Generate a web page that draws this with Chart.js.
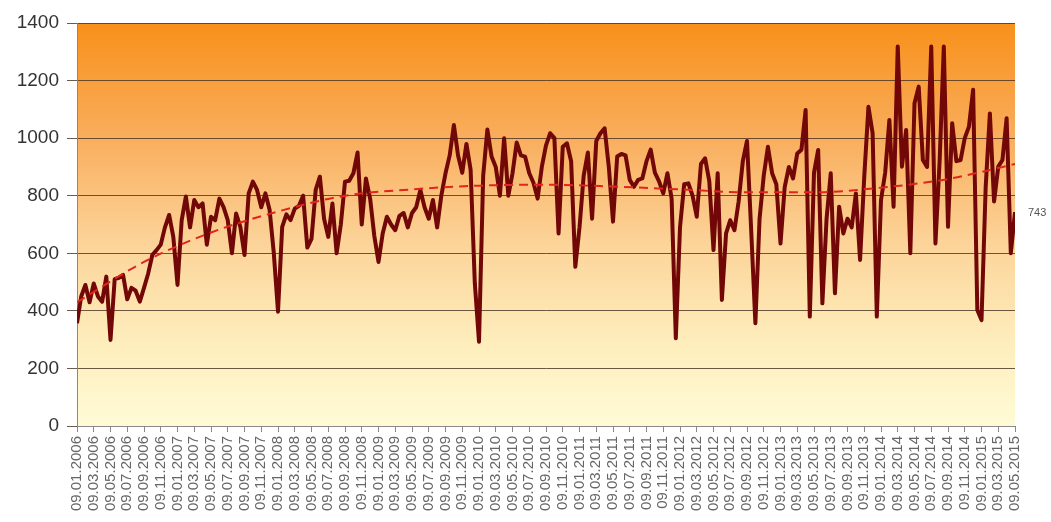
<!DOCTYPE html>
<html><head><meta charset="utf-8">
<script src="https://cdn.jsdelivr.net/npm/chart.js@4.4.1/dist/chart.umd.min.js"></script>
<style>html,body{margin:0;padding:0;background:#fff;}canvas{display:block}</style>
</head><body>
<canvas id="c" width="1051" height="522"></canvas>
<script>
// Tick labels (every two months)
const tickLabels = [
  "09.01.2006","09.03.2006","09.05.2006","09.07.2006","09.09.2006","09.11.2006",
  "09.01.2007","09.03.2007","09.05.2007","09.07.2007","09.09.2007","09.11.2007",
  "09.01.2008","09.03.2008","09.05.2008","09.07.2008","09.09.2008","09.11.2008",
  "09.01.2009","09.03.2009","09.05.2009","09.07.2009","09.09.2009","09.11.2009",
  "09.01.2010","09.03.2010","09.05.2010","09.07.2010","09.09.2010","09.11.2010",
  "09.01.2011","09.03.2011","09.05.2011","09.07.2011","09.09.2011","09.11.2011",
  "09.01.2012","09.03.2012","09.05.2012","09.07.2012","09.09.2012","09.11.2012",
  "09.01.2013","09.03.2013","09.05.2013","09.07.2013","09.09.2013","09.11.2013",
  "09.01.2014","09.03.2014","09.05.2014","09.07.2014","09.09.2014","09.11.2014",
  "09.01.2015","09.03.2015","09.05.2015"
];

// Series values, four readings per two-month interval
const seriesValues = [
  357, 450, 490, 430,   495, 450, 432, 519,   299, 510, 515, 525,   440, 480, 470, 432,
  480, 530, 595, 611,   630, 690, 733, 657,   490, 715, 797, 690,   785, 760, 773, 630,
  727, 715, 790, 760,   715, 600, 738, 692,   594, 808, 849, 820,   760, 808, 750, 600,
  397, 692, 735, 715,   755, 765, 800, 620,   650, 820, 866, 720,   657, 773, 600, 700,
  849, 852, 878, 950,   700, 860, 790, 660,   570, 669, 727, 700,   680, 730, 740, 690,
  740, 760, 820, 760,   720, 785, 690, 800,   878, 940, 1046, 940,  880, 980, 890, 496,
  293, 870, 1030, 936,  900, 800, 1000, 800,  878, 985, 940, 936,   878, 845, 790, 900,
  975, 1017, 1000, 669, 970, 982, 920, 553,   690, 870, 950, 720,   990, 1017, 1034, 900,
  710, 936, 945, 940,   855, 831, 855, 860,   920, 960, 880, 850,   808, 878, 790, 305,
  690, 840, 843, 800,   727, 910, 930, 850,   611, 878, 438, 669,   715, 680, 780, 920,
  990, 680, 357, 720,   870, 970, 878, 840,   634, 830, 900, 860,   947, 960, 1098, 380,
  880, 959, 426, 720,   878, 461, 762, 669,   720, 690, 808, 577,   866, 1109, 1017, 380,
  785, 880, 1063, 762,  1318, 901, 1028, 600, 1121, 1179, 924, 900, 1318, 634, 920, 1318,
  692, 1052, 920, 924,  1000, 1040, 1168, 403, 368, 831, 1086, 780, 901, 924, 1069, 600,
  743
];
const seriesStep = 0.25;   // readings per tick interval

// Trend line readings, one every 4 tick intervals
const trendValues = [430, 570, 672, 745, 800, 822, 835, 838, 832, 822, 812, 812, 828, 858, 910];
const trendStep = 4;

const yTicks = [0, 200, 400, 600, 800, 1000, 1200, 1400];

const seriesData = seriesValues.map((v, i) => ({x: i * seriesStep, y: v}));
const trendData = trendValues.map((v, i) => ({x: i * trendStep, y: v}));

const FONT = "'Liberation Sans', Arial, sans-serif";

const deco = {
  id: 'deco',
  beforeDraw(chart) {
    const {ctx, chartArea: a} = chart;
    const g = ctx.createLinearGradient(0, a.top, 0, a.bottom);
    g.addColorStop(0, '#f8901a');
    g.addColorStop(0.28, '#f9ad5c');
    g.addColorStop(0.55, '#fcd49a');
    g.addColorStop(0.8, '#feeebd');
    g.addColorStop(1, '#fffbd6');
    ctx.save();
    ctx.fillStyle = g;
    ctx.fillRect(a.left, a.top, a.right - a.left, a.bottom - a.top);
    ctx.restore();
  },
  afterDatasetsDraw(chart) {
    const {ctx} = chart;
    const meta = chart.getDatasetMeta(0);
    const pt = meta.data[meta.data.length - 1];
    ctx.save();
    ctx.font = '11px ' + FONT;
    ctx.fillStyle = '#555';
    ctx.textAlign = 'left';
    ctx.textBaseline = 'middle';
    ctx.fillText(String(seriesValues[seriesValues.length - 1]), pt.x + 13, pt.y + 1);
    ctx.restore();
  }
};

new Chart(document.getElementById('c'), {
  type: 'line',
  data: {
    datasets: [
      {
        data: seriesData,
        borderColor: '#720707',
        borderWidth: 4,
        pointRadius: 0,
        tension: 0,
        order: 1,
        borderJoinStyle: 'round'
      },
      {
        data: trendData,
        borderColor: '#e3241c',
        borderWidth: 2,
        borderDash: [9, 6],
        pointRadius: 0,
        cubicInterpolationMode: 'monotone',
        order: 0
      }
    ]
  },
  plugins: [deco],
  options: {
    responsive: false,
    animation: false,
    layout: {padding: {left: 0, right: 36, top: 23, bottom: 0}},
    plugins: {legend: {display: false}, tooltip: {enabled: false}},
    scales: {
      x: {
        type: 'linear',
        min: 0,
        max: tickLabels.length - 1,
        afterFit(s) { s.height = 96; },
        afterBuildTicks(s) { s.ticks = tickLabels.map((_, i) => ({value: i})); },
        ticks: {
          autoSkip: false,
          maxRotation: 90,
          minRotation: 90,
          padding: 4,
          color: '#666',
          font: {family: FONT, size: 15},
          callback: (v) => tickLabels[v]
        },
        grid: {drawOnChartArea: false, drawTicks: true, tickLength: 6, color: '#888'},
        border: {color: '#888', width: 1}
      },
      y: {
        min: 0,
        max: 1400,
        afterFit(s) { s.width = 77; },
        afterBuildTicks(s) { s.ticks = yTicks.map(v => ({value: v})); },
        ticks: {
          padding: 8,
          color: '#333',
          font: {family: FONT, size: 19},
          callback: (v) => String(v)
        },
        grid: {color: 'rgba(70,50,35,0.8)', lineWidth: 1, tickLength: 10},
        border: {color: '#888', width: 1}
      }
    }
  }
});
</script>
</body></html>
